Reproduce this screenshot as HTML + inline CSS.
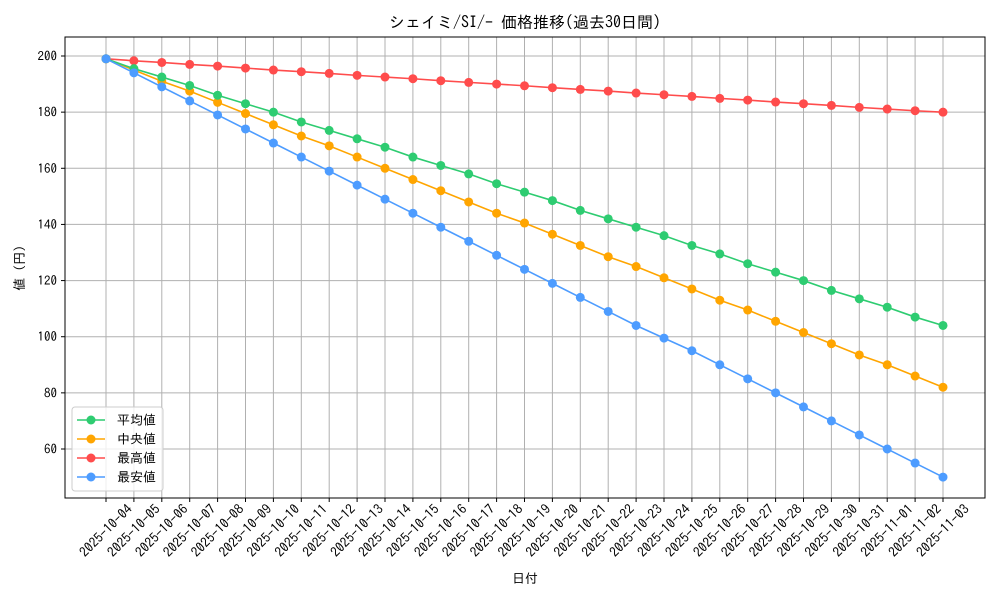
<!DOCTYPE html>
<html><head><meta charset="utf-8"><style>
body{margin:0;background:#fff}
text{font-family:"IPAGothic","Noto Sans CJK JP",monospace;fill:#000}
</style></head><body>
<svg id="c" width="1000" height="600" xmlns="http://www.w3.org/2000/svg">
<rect width="1000" height="600" fill="#fff"/>
<text x="525" y="28" font-size="16" text-anchor="middle">シェイミ/SI/- 価格推移(過去30日間)</text>
<text x="525" y="583" font-size="13" text-anchor="middle">日付</text>
<text transform="translate(24,268) rotate(-90)" font-size="13" text-anchor="middle">値 (円)</text>
<g id="grid"></g><g id="ticks"></g><g id="series"></g>
<rect x="65" y="37" width="920" height="461" fill="none" stroke="#000" stroke-width="1"/>
<g id="legend"></g>
</svg>
<script>
const dates=["2025-10-04","2025-10-05","2025-10-06","2025-10-07","2025-10-08","2025-10-09","2025-10-10","2025-10-11","2025-10-12","2025-10-13","2025-10-14","2025-10-15","2025-10-16","2025-10-17","2025-10-18","2025-10-19","2025-10-20","2025-10-21","2025-10-22","2025-10-23","2025-10-24","2025-10-25","2025-10-26","2025-10-27","2025-10-28","2025-10-29","2025-10-30","2025-10-31","2025-11-01","2025-11-02","2025-11-03"];
const avgVals=[199,195.5,192.5,189.5,186,183,180,176.5,173.5,170.5,167.5,164,161,158,154.5,151.5,148.5,145,142,139,136,132.5,129.5,126,123,120,116.5,113.5,110.5,107,104];
const medVals=[199,195,191,187.5,183.5,179.5,175.5,171.5,168,164,160,156,152,148,144,140.5,136.5,132.5,128.5,125,121,117,113,109.5,105.5,101.5,97.5,93.5,90,86,82];
const maxVals=[199,198.3,197.7,197,196.4,195.7,195,194.4,193.8,193.1,192.5,191.9,191.2,190.6,190,189.4,188.7,188.1,187.5,186.8,186.2,185.6,184.9,184.3,183.6,183,182.4,181.7,181.1,180.5,180];
const minVals=[199,194,189,184,179,174,169,164,159,154,149,144,139,134,129,124,119,114,109,104,99.5,95,90,85,80,75,70,65,60,55,50];
const yTicks=[60,80,100,120,140,160,180,200];
const seriesNames=["平均値","中央値","最高値","最安値"];
const NS="http://www.w3.org/2000/svg";
const xS=i=>106+i*(943-106)/(dates.length-1);
const yS=v=>56+(200-v)*(393/140);
function mk(t,a,p){const e=document.createElementNS(NS,t);for(const k in a)e.setAttribute(k,a[k]);p.appendChild(e);return e;}
const G=document.getElementById('grid'),T=document.getElementById('ticks'),S=document.getElementById('series'),L=document.getElementById('legend');
dates.forEach((d,i)=>{const x=xS(i);
const g=mk('line',{x1:x,x2:x,y1:37,y2:498,stroke:'#b0b0b0','stroke-width':1},G);


mk('line',{x1:x,x2:x,y1:498,y2:502,stroke:'#000'},T);
const t=mk('text',{transform:`translate(${x+27},510) rotate(-45)`,'font-size':13.5,'text-anchor':'end'},T);t.textContent=d;

});
yTicks.forEach(v=>{const y=yS(v);
const g=mk('line',{x1:65,x2:985,y1:y,y2:y,stroke:'#b0b0b0','stroke-width':1},G);


mk('line',{x1:61,x2:65,y1:y,y2:y,stroke:'#000'},T);
const t=mk('text',{x:57,y:y+4.5,'font-size':13,'text-anchor':'end'},T);t.textContent=v;

});
const all=[avgVals,medVals,maxVals,minVals],cols=["#2ecc71","#ffa500","#ff4c4c","#4d9cff"],keys=["avg","median","max","min"];
[2,1,0,3].forEach(k=>{const vals=all[k];const g=mk('g',{},S);


mk('polyline',{points:vals.map((v,i)=>xS(i)+','+yS(v)).join(' '),fill:'none',stroke:cols[k],'stroke-width':1.6},g);
vals.forEach((v,i)=>{const c=mk('circle',{cx:xS(i),cy:yS(v),r:4.5,fill:cols[k]},g);

});});
const lb=mk('rect',{x:72,y:407,width:91,height:84,rx:3,fill:'#fff','fill-opacity':0.8,stroke:'#ccc'},L);


seriesNames.forEach((n,k)=>{const y=420+k*19;const g=mk('g',{},L);


mk('line',{x1:77,x2:105,y1:y,y2:y,stroke:cols[k],'stroke-width':1.6},g);
mk('circle',{cx:91,cy:y,r:4.5,fill:cols[k]},g);
const t=mk('text',{x:117,y:y+4.5,'font-size':13},g);t.textContent=n;});
</script>
</body></html>
